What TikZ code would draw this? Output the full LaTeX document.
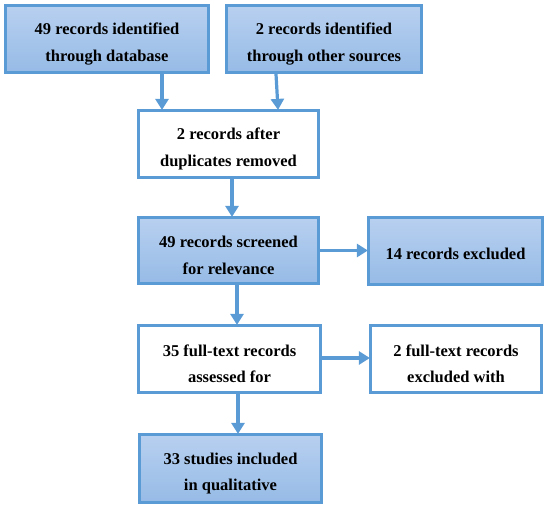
\documentclass[tikz,border=0pt]{standalone}
\usepackage{fontspec}
\setmainfont{Liberation Serif}
\usetikzlibrary{arrows.meta}
\definecolor{edge}{RGB}{91,155,213}
\definecolor{topc}{RGB}{184,208,240}
\definecolor{botc}{RGB}{150,187,230}
\tikzset{
  txt/.style={align=center, inner sep=0pt, text=black,
    font=\fontsize{16.5}{26.5}\selectfont\bfseries, yshift=#1},
  txt/.default=-5pt,
  base/.style={draw=edge, line width=3.2pt, inner sep=0pt},
  bluebox/.style={base, top color=topc, bottom color=botc},
  whitebox/.style={base, fill=white},
  arr/.style={draw=edge, line width=3.2pt, -{Triangle[length=11pt,width=13pt]}, shorten >=-1pt}
}
\begin{document}
\begin{tikzpicture}[x=1pt,y=-1pt]
\useasboundingbox (0,0) rectangle (550,509);
\node[bluebox, minimum width=203pt, minimum height=67pt, label={[txt]center:49 records identified\\through database}] (b1) at (107,39) {};
\node[bluebox, minimum width=195pt, minimum height=67pt, label={[txt]center:2 records identified\\through other sources}] (b2) at (324,39) {};
\node[whitebox, minimum width=180pt, minimum height=67pt, label={[txt]center:2 records after\\duplicates removed}] (b3) at (228.5,144) {};
\node[bluebox, minimum width=180pt, minimum height=66pt, label={[txt]center:49 records screened\\for relevance}] (b4) at (228.5,250.5) {};
\node[bluebox, minimum width=174pt, minimum height=67pt, label={[txt=-3pt]center:14 records excluded}] (b5) at (455.5,251) {};
\node[whitebox, minimum width=182pt, minimum height=67pt, label={[txt]center:35 full-text records\\assessed for}] (b6) at (229.5,359) {};
\node[whitebox, minimum width=171pt, minimum height=67pt, label={[txt]center:2 full-text records\\excluded with}] (b7) at (456,359) {};
\node[bluebox, minimum width=182pt, minimum height=68pt, label={[txt]center:33 studies included\\in qualitative}] (b8) at (230.5,468.5) {};
\draw[arr] ([xshift=55pt]b1.south) -- ([xshift=-66.5pt]b3.north);
\draw[arr] ([xshift=-48pt]b2.south) -- ([xshift=49.5pt]b3.north);
\draw[arr] ([xshift=3.5pt]b3.south) -- ([xshift=3.5pt]b4.north);
\draw[arr] (b4.east) -- (b4.east -| b5.west);
\draw[arr] ([xshift=8.5pt]b4.south) -- ([xshift=7.5pt]b6.north);
\draw[arr] ([yshift=1pt]b6.east) -- ([yshift=1pt]b6.east -| b7.west);
\draw[arr] ([xshift=8.5pt]b6.south) -- ([xshift=7.5pt]b8.north);
\end{tikzpicture}
\end{document}
